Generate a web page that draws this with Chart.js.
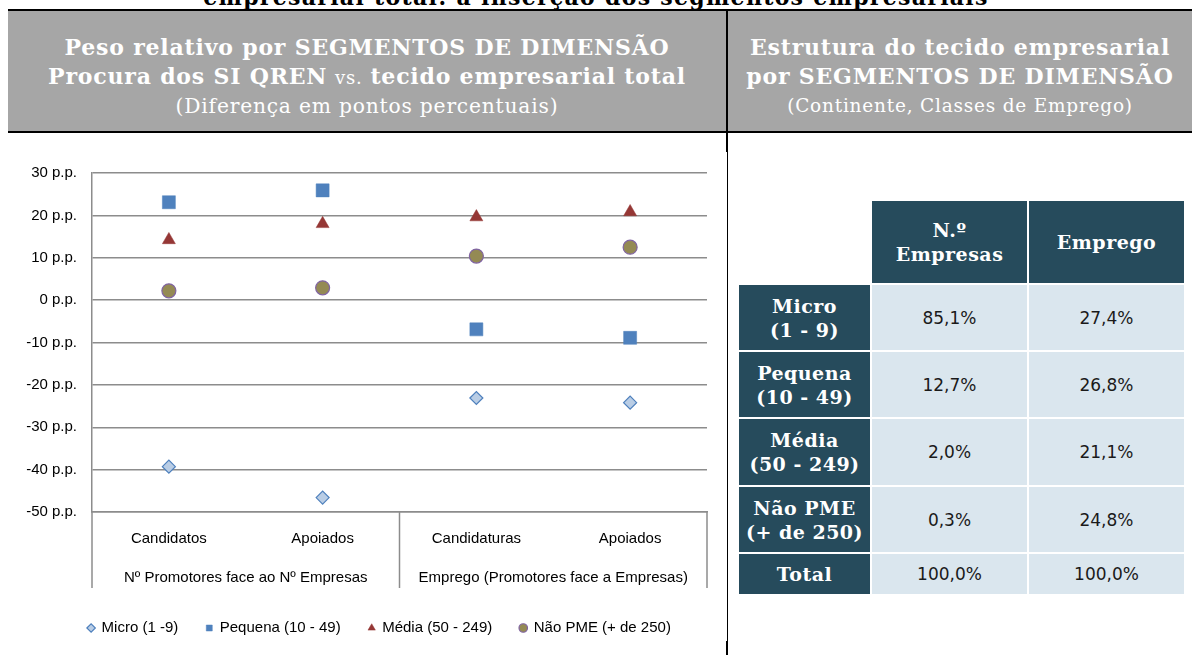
<!DOCTYPE html>
<html lang="pt">
<head>
<meta charset="utf-8">
<title>Peso relativo por segmentos de dimensão</title>
<script src="https://cdn.jsdelivr.net/npm/chart.js@4.4.1/dist/chart.umd.min.js"></script>
<style>
  html, body { margin: 0; padding: 0; }
  body {
    width: 1192px; height: 655px; position: relative; overflow: hidden;
    background: #fff; font-family: "DejaVu Serif", serif;
  }
  .doc-title {
    position: absolute; left: 0; width: 1192px; top: -13px;
    text-align: center; font-weight: bold; font-size: 22px; line-height: 21px;
    letter-spacing: 1.3px; color: #000; white-space: nowrap;
  }
  .band {
    position: absolute; left: 8px; top: 9px; width: 1184px; height: 120px;
    background: #a6a6a6; border-top: 2px solid #000; border-bottom: 2px solid #000;
  }
  .head {
    position: absolute; top: 33px; text-align: center; color: #fff;
    font-size: 22px; line-height: 28px; letter-spacing: 0.8px; white-space: nowrap;
  }
  .head .b  { font-weight: bold; }
  .head .vs { font-size: 0.82em; }
  .head .sub { font-size: 0.92em; }
  .head .small { font-size: 0.84em; }
  .vline { position: absolute; background: #000; }

  #chartBox { position: absolute; left: 0; top: 149px; }

  .tbl {
    position: absolute; left: 739px; top: 201px; display: grid;
    grid-template-columns: 131px 155px 155px;
    grid-template-rows: 82px 65px 65px 66px 65px 40px;
    gap: 2px;
  }
  .tbl div {
    display: flex; align-items: center; justify-content: center; text-align: center;
    white-space: pre-line;
  }
  .tbl .dark {
    background: #264b5c; color: #fff; font-weight: bold;
    font-size: 19px; line-height: 24px; letter-spacing: 0.5px;
  }
  .tbl .light {
    background: #dae6ee; color: #1a1a1a;
    font-family: "DejaVu Sans", sans-serif; font-size: 17px;
  }
</style>
</head>
<body>

<div class="doc-title">empresarial total: a inserção dos segmentos empresariais</div>

<div class="band"></div>
<div class="head" style="left:8px; width:718px;">
  <span class="b">Peso relativo por SEGMENTOS DE DIMENSÃO</span><br>
  <span class="b">Procura dos SI QREN</span> <span class="vs">vs.</span> <span class="b">tecido empresarial total</span><br>
  <span class="sub">(Diferença em pontos percentuais)</span>
</div>
<div class="head" style="left:728px; width:464px;">
  <span class="b">Estrutura do tecido empresarial</span><br>
  <span class="b">por SEGMENTOS DE DIMENSÃO</span><br>
  <span class="small">(Continente, Classes de Emprego)</span>
</div>

<div class="vline" style="left:726px; top:9px; width:2px; height:143px;"></div>
<div class="vline" style="left:727px; top:152px; width:1px; height:503px;"></div>
<div class="vline" style="left:726px; top:641px; width:2px; height:14px;"></div>

<div id="chartBox"><canvas id="peso" width="726" height="506"></canvas></div>

<div class="tbl" id="estrutura"></div>

<script>
// ── Data ──────────────────────────────────────────────────────────
const categories = ["Candidatos", "Apoiados", "Candidaturas", "Apoiados"];
const groups     = ["Nº Promotores face ao Nº Empresas", "Emprego (Promotores face a Empresas)"];

const segmentNames = ["Micro (1 -9)", "Pequena (10 - 49)", "Média (50 - 249)", "Não PME (+ de 250)"];
const micro   = [-39.3, -46.6, -23.1, -24.2];
const pequena = [ 23.1,  25.9,  -6.9,  -8.9];
const media   = [ 14.2,  18.0,  19.6,  20.8];
const naoPme  = [  2.2,   2.9,  10.4,  12.5];

const yMin = -50, yMax = 30, yStep = 10;

const colHeads = ["N.º\nEmpresas", "Emprego"];
const rowNames = ["Micro\n(1 - 9)", "Pequena\n(10 - 49)", "Média\n(50 - 249)", "Não PME\n(+ de 250)", "Total"];
const empresas = [85.1, 12.7, 2.0, 0.3, 100.0];
const emprego  = [27.4, 26.8, 21.1, 24.8, 100.0];

// ── Chart.js defaults ─────────────────────────────────────────────
const GRID = "#8c8c8c";
Chart.defaults.font.family = "'Liberation Sans', Arial, sans-serif";
Chart.defaults.font.size   = 15;
Chart.defaults.color       = "#000";

// separator lines of the two-level category axis
const groupLines = {
  id: "groupLines",
  afterDraw(chart) {
    const g = chart.scales.x2;
    const ctx = chart.ctx;
    const band = g.width / groups.length;
    ctx.save();
    ctx.strokeStyle = GRID;
    ctx.lineWidth = 1.5;
    for (let k = 0; k <= groups.length; k++) {
      const px = g.left + k * band;
      ctx.beginPath();
      ctx.moveTo(px, chart.chartArea.bottom);
      ctx.lineTo(px, chart.chartArea.bottom + 76);
      ctx.stroke();
    }
    ctx.restore();
  }
};

// legend sits a bit right of the canvas centre in the original
const legendShift = {
  id: "legendShift",
  afterLayout(chart) {
    chart.legend.left  += 26;
    chart.legend.right += 26;
  }
};

function series(label, data, style, radius, fill, border, borderWidth) {
  return {
    label, data,
    showLine: false,
    pointStyle: style,
    pointRadius: radius,
    pointHoverRadius: radius,
    pointBackgroundColor: fill,
    pointBorderColor: border,
    pointBorderWidth: borderWidth,
    backgroundColor: fill,
    borderColor: border,
  };
}

new Chart(document.getElementById("peso"), {
  type: "line",
  data: {
    labels: categories,
    datasets: [
      series(segmentNames[0], micro,   "rectRot",  6.5, "#b9cde5", "#4f81bd", 1.2),
      series(segmentNames[1], pequena, "rect",     9.2, "#4f81bd", "#4f81bd", 0.5),
      series(segmentNames[2], media,   "triangle", 7.5, "#953735", "#953735", 0.5),
      series(segmentNames[3], naoPme,  "circle",   7,   "#948a54", "#8064a2", 1.2),
    ]
  },
  options: {
    responsive: false,
    animation: false,
    events: [],
    layout: { padding: { top: 17, right: 19, bottom: 9.5, left: 0 } },
    plugins: {
      tooltip: { enabled: false },
      legend: {
        position: "bottom",
        labels: { usePointStyle: true, boxWidth: 6, boxHeight: 6, padding: 28, color: "#000" }
      }
    },
    scales: {
      y: {
        min: yMin, max: yMax,
        ticks: { stepSize: yStep, padding: 15, callback: v => `${v} p.p.` },
        grid: { color: GRID, lineWidth: 1.5, drawTicks: false },
        border: { display: true, color: GRID, width: 1.5 },
        afterFit: s => { s.width = 92; }
      },
      x: {
        type: "category",
        offset: true,
        grid: { display: false },
        border: { display: true, color: GRID, width: 1.5 },
        ticks: { padding: 10, maxRotation: 0, autoSkip: false },
        afterFit: s => { s.height = 46; }
      },
      x2: {
        type: "category",
        position: "bottom",
        labels: groups,
        offset: true,
        grid: { display: false },
        border: { display: false },
        ticks: { padding: 3, maxRotation: 0, autoSkip: false },
        afterFit: s => { s.height = 34.5; }
      }
    }
  },
  plugins: [groupLines, legendShift]
});

// ── Structure table ───────────────────────────────────────────────
const pct = v => v.toFixed(1).replace(".", ",") + "%";
const tbl = document.getElementById("estrutura");
const cell = (cls, text) => {
  const el = document.createElement("div");
  if (cls) el.className = cls;
  el.textContent = text;
  tbl.appendChild(el);
};
cell("", "");
colHeads.forEach(h => cell("dark", h));
rowNames.forEach((name, i) => {
  cell("dark", name);
  cell("light", pct(empresas[i]));
  cell("light", pct(emprego[i]));
});
</script>
</body>
</html>
